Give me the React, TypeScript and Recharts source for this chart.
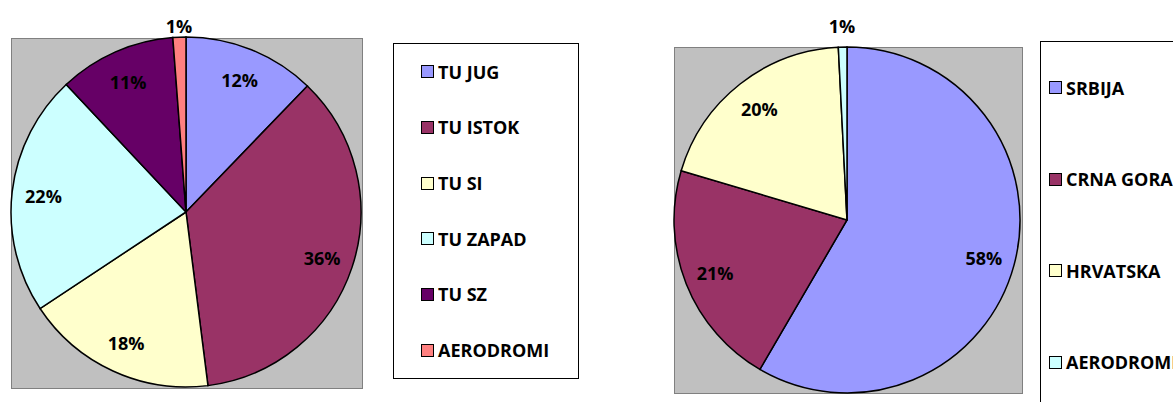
import React from 'react';
import { PieChart, Pie, Cell, Legend } from 'recharts';

// left chart: share by region
const regionNames = ['TU JUG', 'TU ISTOK', 'TU SI', 'TU ZAPAD', 'TU SZ', 'AERODROMI'];
const regionValues = [12.2, 35.8, 17.7, 22.3, 10.8, 1.2];
const regionColors = ['#9999FF', '#993366', '#FFFFCC', '#CCFFFF', '#660066', '#FF8080'];

// right chart: share by country
const countryNames = ['SRBIJA', 'CRNA GORA', 'HRVATSKA', 'AERODROMI'];
const countryValues = [58.4, 21.2, 19.6, 0.8];
const countryColors = ['#9999FF', '#993366', '#FFFFCC', '#CCFFFF'];

const FONT = '"Open Sans", sans-serif';
const RAD = Math.PI / 180;

const regionData = regionNames.map((name, i) => ({ name, value: regionValues[i] }));
const countryData = countryNames.map((name, i) => ({ name, value: countryValues[i] }));

const makeLabel = (outsideGap: number) => (props: any) => {
  const { cx, cy, midAngle, outerRadius, percent } = props;
  const r = percent < 0.05 ? outerRadius + outsideGap : outerRadius * 0.82;
  const x = cx + r * Math.cos(-midAngle * RAD);
  const y = cy + r * Math.sin(-midAngle * RAD) + 1;
  return (
    <text
      x={x}
      y={y}
      textAnchor="middle"
      dominantBaseline="central"
      fill="#000"
      fontFamily={FONT}
      fontWeight={700}
      fontSize={18}
    >
      {`${Math.round(percent * 100)}%`}
    </text>
  );
};

// legend keeps the data order (recharts sorts by name otherwise)
const makeLegend = (names: string[], colors: string[], padLeft: number) => () => (
  <div
    style={{
      height: '100%',
      display: 'flex',
      flexDirection: 'column',
      justifyContent: 'space-around',
      paddingLeft: padLeft,
      boxSizing: 'border-box',
    }}
  >
    {names.map((name, i) => (
      <div key={name} style={{ display: 'flex', alignItems: 'center' }}>
        <span
          style={{
            display: 'inline-block',
            width: 13,
            height: 13,
            boxSizing: 'border-box',
            border: '1.5px solid #000',
            background: colors[i],
            marginRight: 4,
          }}
        />
        <span
          style={{
            fontFamily: FONT,
            fontWeight: 700,
            fontSize: 18,
            color: '#000',
            whiteSpace: 'nowrap',
            lineHeight: '20px',
          }}
        >
          {name}
        </span>
      </div>
    ))}
  </div>
);

const noMargin = { top: 0, right: 0, bottom: 0, left: 0 };

const RegionPie = () => (
  <div style={{ position: 'absolute', left: 0, top: 0, width: 600, height: 402 }}>
    <div
      style={{
        position: 'absolute',
        left: 11,
        top: 38,
        width: 352,
        height: 351,
        boxSizing: 'border-box',
        background: '#C0C0C0',
        border: '1px solid #808080',
      }}
    />
    <PieChart width={600} height={402} margin={noMargin}>
      <Pie
        data={regionData}
        dataKey="value"
        nameKey="name"
        cx={186}
        cy={212}
        outerRadius={175}
        startAngle={90}
        endAngle={-270}
        stroke="#000"
        strokeWidth={1.5}
        label={makeLabel(12)}
        labelLine={false}
        isAnimationActive={false}
      >
        {regionData.map((d, i) => (
          <Cell key={d.name} fill={regionColors[i]} />
        ))}
      </Pie>
      <Legend
        layout="vertical"
        align="right"
        verticalAlign="middle"
        content={makeLegend(regionNames, regionColors, 27)}
        wrapperStyle={{
          left: 393,
          top: 43,
          width: 186,
          height: 336,
          border: '1px solid #000',
          boxSizing: 'border-box',
          background: '#fff',
        }}
      />
    </PieChart>
  </div>
);

const CountryPie = () => (
  <div style={{ position: 'absolute', left: 600, top: 0, width: 573, height: 402 }}>
    <div
      style={{
        position: 'absolute',
        left: 74,
        top: 47,
        width: 349,
        height: 347,
        boxSizing: 'border-box',
        background: '#C0C0C0',
        border: '1px solid #808080',
      }}
    />
    <PieChart width={573} height={402} margin={noMargin}>
      <Pie
        data={countryData}
        dataKey="value"
        nameKey="name"
        cx={247}
        cy={220}
        outerRadius={173}
        startAngle={90}
        endAngle={-270}
        stroke="#000"
        strokeWidth={1.5}
        label={makeLabel(22)}
        labelLine={false}
        isAnimationActive={false}
      >
        {countryData.map((d, i) => (
          <Cell key={d.name} fill={countryColors[i]} />
        ))}
      </Pie>
      <Legend
        layout="vertical"
        align="right"
        verticalAlign="middle"
        content={makeLegend(countryNames, countryColors, 8)}
        wrapperStyle={{
          left: 440,
          top: 41,
          width: 200,
          height: 368,
          border: '1px solid #000',
          boxSizing: 'border-box',
          background: '#fff',
        }}
      />
    </PieChart>
  </div>
);

export default function App() {
  return (
    <div
      style={{
        position: 'absolute',
        left: 0,
        top: 0,
        width: 1173,
        height: 402,
        overflow: 'hidden',
        background: '#fff',
      }}
    >
      <RegionPie />
      <CountryPie />
    </div>
  );
}
